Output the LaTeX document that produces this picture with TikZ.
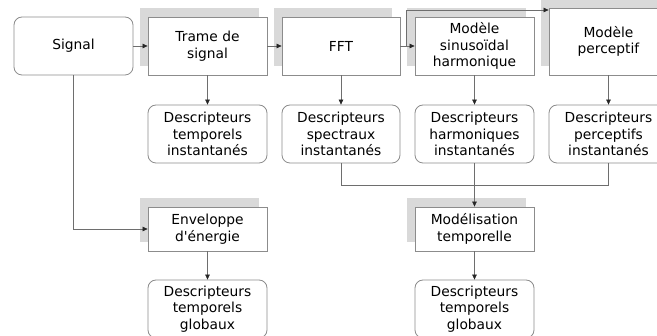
\documentclass[tikz,border=0pt]{standalone}
\usepackage{fontspec}
\setmainfont{DejaVu Sans}
\usetikzlibrary{arrows.meta,shadows}
\definecolor{shadowgray}{HTML}{D9D9D9}
\definecolor{boxline}{HTML}{8C8C8C}
\definecolor{conline}{HTML}{6E6E6E}
\tikzset{
  base/.style={draw=boxline, line width=0.8pt, fill=white, align=center,
    font=\fontsize{13.8}{16.7}\selectfont, inner sep=0pt, minimum width=119pt},
  procbox/.style={base, general shadow={shadow xshift=-8.5pt, shadow yshift=9pt, fill=shadowgray}},
  roundbox/.style={base, rounded corners=8pt},
  con/.style={draw=conline, line width=0.6pt},
  arr/.style={con, -{Triangle[length=5pt,width=4.5pt,fill=black!85,color=black!85]}}
}
\begin{document}
\begin{tikzpicture}[x=1pt,y=-1pt]
\useasboundingbox (0,0) rectangle (657,336);
\clip (0,0) rectangle (657,336);
\fill[white] (0,0) rectangle (657,336);
% top row
\node[roundbox, minimum height=58pt] (signal) at (73.5,46) {Signal};
\node[procbox, minimum height=58pt] (trame) at (207.5,46) {Trame de\\signal};
\node[procbox, minimum height=58pt, minimum width=118pt] (fft) at (341,46) {FFT};
\node[procbox, minimum height=58pt] (sinus) at (474.5,46) {Modèle\\sinusoïdal\\harmonique};
\node[procbox, minimum height=67pt] (percep) at (608.5,41.5) {Modèle\\perceptif};
% descriptor row
\node[roundbox, minimum height=58pt] (d1) at (207.5,134) {Descripteurs\\temporels\\instantanés};
\node[roundbox, minimum height=58pt, minimum width=118pt] (d2) at (341,134) {Descripteurs\\spectraux\\instantanés};
\node[roundbox, minimum height=58pt] (d3) at (474.5,134) {Descripteurs\\harmoniques\\instantanés};
\node[roundbox, minimum height=58pt] (d4) at (608.5,134) {Descripteurs\\perceptifs\\instantanés};
% lower rows
\node[procbox, minimum height=44pt] (env) at (207.5,229) {Enveloppe\\d\textquotesingle énergie};
\node[procbox, minimum height=44pt] (modt) at (474.5,229) {Modélisation\\temporelle};
\node[roundbox, minimum height=58pt] (g1) at (207.5,309) {Descripteurs\\temporels\\globaux};
\node[roundbox, minimum height=58pt] (g2) at (474.5,309) {Descripteurs\\temporels\\globaux};
% connectors
\draw[arr] (signal.east) -- (trame.west);
\draw[arr] (trame.east) -- (fft.west);
\coordinate (br) at (406,46);
\coordinate (top) at (406,10);
\draw[arr] (fft.east) -- (sinus.west);
\draw[arr] (br) -- (top) -- (top -| percep.west);
\draw[arr] (trame.south) -- (d1.north);
\draw[arr] (fft.south) -- (d2.north);
\draw[arr] (sinus.south) -- (d3.north);
\draw[arr] (percep.south) -- (d4.north);
\coordinate (join) at (341,185);
\draw[con] (d2.south) -- (join) -| (d4.south);
\draw[arr] (d3.south) -- (modt.north);
\draw[arr] (signal.south) |- (env.west);
\draw[arr] (env.south) -- (g1.north);
\draw[arr] (modt.south) -- (g2.north);
\end{tikzpicture}
\end{document}
